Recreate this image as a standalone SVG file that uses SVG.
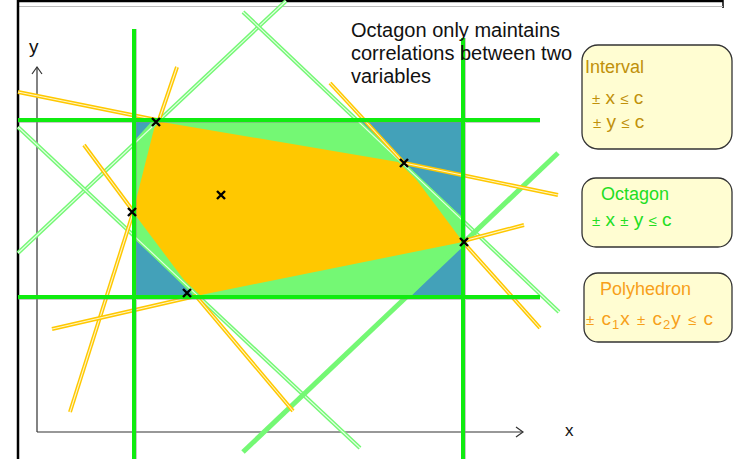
<svg xmlns="http://www.w3.org/2000/svg" width="733" height="459" viewBox="0 0 733 459">
<defs>
<style>
.yo{stroke:#FFC800;stroke-width:4;fill:none}
.yi{stroke:#FFF6C8;stroke-width:1.1;fill:none}
.go{stroke:#74F874;stroke-width:4;fill:none}
.gi{stroke:#E6FFE6;stroke-width:1.1;fill:none}
.gs{stroke:#74F874;stroke-width:5;fill:none}
.gt{stroke:#10EC10;stroke-width:4;fill:none}
.sh{stroke:#888;stroke-opacity:0.45;stroke-width:4;fill:none}
.mk{stroke:#000;stroke-width:2.4;fill:none}
.ax{stroke:#333;stroke-width:1.2;fill:none}
.box{fill:#FFFDD2;stroke:#333;stroke-width:1.3}
.t{font-family:"Liberation Sans",Arial,sans-serif}
.op{font-size:15px}
</style>
</defs>
<rect width="733" height="459" fill="#fff"/>
<g id="frame">
<line x1="18" y1="1" x2="723" y2="1" stroke="#000" stroke-width="2.5"/>
<line x1="723" y1="0" x2="723" y2="8" stroke="#000" stroke-width="1.5"/>
<line x1="18" y1="6.5" x2="723" y2="6.5" stroke="#bbb" stroke-width="1"/>
<line x1="18" y1="0" x2="18" y2="459" stroke="#000" stroke-width="2.5"/>
</g>
<g id="axes">
<path class="ax" d="M37,432 V67 M37,432 H523"/>
<path class="ax" d="M32,74 L37,67 L42,74" stroke-width="1.8"/>
<path class="ax" d="M516,427 L523,432 L516,437" stroke-width="1.8"/>
<text class="t" x="29" y="53" font-size="19" fill="#111">y</text>
<text class="t" x="565" y="436" font-size="17" fill="#111">x</text>
</g>
<g id="regions">
<rect id="interval-box" x="134" y="120" width="329" height="177" fill="#43A1B9"/>
<polygon id="octagon" points="153,120 358,120 463,218 463,243 410,297 195,297 134,238 134,141" fill="#74F874"/>
<polygon id="polyhedron" points="156,121 404,163 463,242 196,296 133,212" fill="#FFC800"/>
</g>
<g id="connectors">
<g id="green-lines">
<path class="go" d="M286,1 L18,253"/>
<path class="gi" d="M286,1 L18,253"/>
<path class="go" d="M243,12 L559,312"/>
<path class="gi" d="M243,12 L559,312"/>
<path class="go" d="M18,127 L360,448"/>
<path class="gi" d="M18,127 L360,448"/>
<path class="gs" d="M558,153 L243,452"/>
</g>
<g id="yellow-lines">
<path class="yo" d="M18,92 L157,120"/>
<path class="yi" d="M18,92 L157,120"/>
<path class="yo" d="M177,67 L159,120"/>
<path class="yi" d="M177,67 L159,120"/>
<path class="yo" d="M133,213 L70,412"/>
<path class="yi" d="M133,213 L70,412"/>
<path class="yo" d="M84,145 L133,211"/>
<path class="yi" d="M84,145 L133,211"/>
<path class="yo" d="M196,296 L293,411"/>
<path class="yi" d="M196,296 L293,411"/>
<path class="yo" d="M52,329 L196,296"/>
<path class="yi" d="M52,329 L196,296"/>
<path class="yo" d="M463,241 L524,225"/>
<path class="yi" d="M463,241 L524,225"/>
<path class="yo" d="M330,83 L404,163"/>
<path class="yi" d="M330,83 L404,163"/>
<path class="yo" d="M463,242 L540,328"/>
<path class="yi" d="M463,242 L540,328"/>
<path class="yo" d="M404,163 L558,195"/>
<path class="yi" d="M404,163 L558,195"/>
</g>
<g id="interval-lines">
<path class="sh" d="M18,121 H540 M18,298 H540 M135,29 V459 M464,38 V459"/>
<path class="gt" d="M18,120 H540 M18,297 H540 M134,29 V459 M463,38 V459"/>
</g>
</g>
<g id="points">
<path class="mk" d="M152,118 l8,8 m0,-8 l-8,8"/>
<path class="mk" d="M400,159 l8,8 m0,-8 l-8,8"/>
<path class="mk" d="M460,238 l8,8 m0,-8 l-8,8"/>
<path class="mk" d="M183,289 l8,8 m0,-8 l-8,8"/>
<path class="mk" d="M128,208 l8,8 m0,-8 l-8,8"/>
<path class="mk" d="M217,191 l8,8 m0,-8 l-8,8"/>
</g>
<g id="caption">
<text class="t" font-size="20" fill="#111"><tspan x="351" y="37">Octagon only maintains</tspan><tspan x="351" y="60">correlations between two</tspan><tspan x="351" y="83">variables</tspan></text>
</g>
<g id="legend-interval">
<rect class="box" x="582" y="45" width="150" height="104" rx="16"/>
<text class="t" x="585" y="73" font-size="18" fill="#C0900A">Interval</text>
<text class="t" x="592" y="104" font-size="19" fill="#C0900A"><tspan class="op">±</tspan> x <tspan class="op">≤</tspan> c</text>
<text class="t" x="593" y="128" font-size="19" fill="#C0900A"><tspan class="op">±</tspan> y <tspan class="op">≤</tspan> c</text>
</g>
<g id="legend-octagon">
<rect class="box" x="582" y="178" width="150" height="69" rx="14"/>
<text class="t" x="601" y="200" font-size="18" fill="#22DD22">Octagon</text>
<text class="t" x="592" y="226" font-size="19" fill="#22DD22"><tspan class="op">±</tspan> x <tspan class="op">±</tspan> y <tspan class="op">≤</tspan> c</text>
</g>
<g id="legend-polyhedron">
<rect class="box" x="584" y="273" width="148" height="69" rx="14"/>
<text class="t" x="600" y="295" font-size="18" fill="#F7A01A">Polyhedron</text>
<text class="t" x="586" y="325" font-size="19" fill="#F7A01A" letter-spacing="1"><tspan class="op">±</tspan> c<tspan font-size="13" dy="4">1</tspan><tspan dy="-4">x </tspan><tspan class="op">±</tspan> c<tspan font-size="13" dy="4">2</tspan><tspan dy="-4">y </tspan><tspan class="op">≤</tspan> c</text>
</g>
</svg>
